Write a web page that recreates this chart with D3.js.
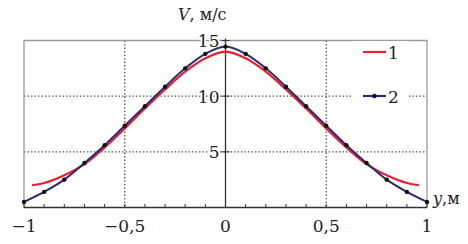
<!DOCTYPE html>
<html>
<head>
<meta charset="utf-8">
<script src="https://cdn.jsdelivr.net/npm/d3@7"></script>
<style>
  body { margin: 0; background: #fff; }
</style>
</head>
<body>
<div id="chart"></div>
<script>
const width = 468, height = 244;

// series 1 (red, smooth line)
var redX = [-0.96, -0.9, -0.8, -0.7, -0.6, -0.5, -0.4, -0.3, -0.2, -0.1, 0, 0.1, 0.2, 0.3, 0.4, 0.5, 0.6, 0.7, 0.8, 0.9, 0.96];
var redV = [2.0, 2.2, 2.9, 3.9, 5.4, 7.1, 8.9, 10.6, 12.2, 13.4, 14.0, 13.4, 12.2, 10.6, 8.9, 7.1, 5.4, 3.9, 2.9, 2.2, 2.0];

// series 2 (navy, with markers)
var blueX = [-1, -0.9, -0.8, -0.7, -0.6, -0.5, -0.4, -0.3, -0.2, -0.1, 0, 0.1, 0.2, 0.3, 0.4, 0.5, 0.6, 0.7, 0.8, 0.9, 1];
var blueV = [0.5, 1.4, 2.5, 4.0, 5.6, 7.35, 9.1, 10.85, 12.5, 13.8, 14.45, 13.8, 12.5, 10.85, 9.1, 7.35, 5.6, 4.0, 2.5, 1.4, 0.5];

var xTicks = [-1, -0.5, 0, 0.5, 1];
var xTickLabels = ["\u22121", "\u22120,5", "0", "0,5", "1"];
var yTicks = [5, 10, 15];
var legendLabels = ["1", "2"];

var font = "DejaVu Serif";

var svg = d3.select("#chart").append("svg")
    .attr("width", width)
    .attr("height", height);

var x = d3.scaleLinear().domain([-1, 1]).range([24, 427]);
var y = d3.scaleLinear().domain([0, 15]).range([207.5, 40.5]);

// grid (dotted)
svg.append("g")
    .selectAll("line")
    .data([-0.5, 0.5])
    .join("line")
    .attr("x1", d => x(d)).attr("x2", d => x(d))
    .attr("y1", y(15)).attr("y2", y(0))
    .attr("stroke", "#555")
    .attr("stroke-width", 1.3)
    .attr("stroke-dasharray", "1.5,2");

svg.append("g")
    .selectAll("line")
    .data([5, 10])
    .join("line")
    .attr("x1", x(-1)).attr("x2", x(1))
    .attr("y1", d => y(d)).attr("y2", d => y(d))
    .attr("stroke", "#555")
    .attr("stroke-width", 1.3)
    .attr("stroke-dasharray", "1.5,2");

// frame
svg.append("path")
    .attr("d", "M" + x(-1) + "," + y(0) + "V" + y(15) + "H" + x(1) + "V" + y(0))
    .attr("fill", "none")
    .attr("stroke", "#9a9a9a")
    .attr("stroke-width", 1.3);

// x axis with minor ticks
svg.append("line")
    .attr("x1", x(-1)).attr("x2", x(1))
    .attr("y1", y(0)).attr("y2", y(0))
    .attr("stroke", "#333").attr("stroke-width", 1.5);

svg.append("g")
    .selectAll("line")
    .data(d3.range(-10, 11).map(d => d / 10))
    .join("line")
    .attr("x1", d => x(d)).attr("x2", d => x(d))
    .attr("y1", y(0)).attr("y2", y(0) - 3.5)
    .attr("stroke", "#333").attr("stroke-width", 1);

svg.append("g")
    .selectAll("text")
    .data(xTicks)
    .join("text")
    .attr("x", d => x(d))
    .attr("y", 232)
    .attr("text-anchor", "middle")
    .style("font-family", font)
    .style("font-size", "17px")
    .attr("fill", "#222")
    .text((d, i) => xTickLabels[i]);

// y axis at x = 0
svg.append("line")
    .attr("x1", x(0)).attr("x2", x(0))
    .attr("y1", y(0)).attr("y2", y(15) - 2)
    .attr("stroke", "#333").attr("stroke-width", 1.3);

svg.append("g")
    .selectAll("line")
    .data(yTicks)
    .join("line")
    .attr("x1", x(0) - 4).attr("x2", x(0) + 4)
    .attr("y1", d => y(d)).attr("y2", d => y(d))
    .attr("stroke", "#333").attr("stroke-width", 1);

svg.append("g")
    .selectAll("text")
    .data(yTicks)
    .join("text")
    .attr("x", x(0) - 6)
    .attr("y", d => y(d) + 6.5)
    .attr("text-anchor", "end")
    .style("font-family", font)
    .style("font-size", "17px")
    .attr("fill", "#222")
    .style("paint-order", "stroke")
    .attr("stroke", "#fff")
    .attr("stroke-width", 3)
    .text(d => d);

// axis titles
var vt = svg.append("text")
    .attr("x", 178).attr("y", 20)
    .style("font-family", font)
    .style("font-size", "16px")
    .attr("fill", "#222");
vt.append("tspan").attr("font-style", "italic").text("V");
vt.append("tspan").text(", м/с");

var yt = svg.append("text")
    .attr("x", 433).attr("y", 204)
    .style("font-family", font)
    .style("font-size", "16px")
    .attr("fill", "#222");
yt.append("tspan").attr("font-style", "italic").text("y");
yt.append("tspan").text(",м");

// curves
var redData = redX.map((d, i) => [d, redV[i]]);
var blueData = blueX.map((d, i) => [d, blueV[i]]);

var line = d3.line()
    .x(d => x(d[0]))
    .y(d => y(d[1]))
    .curve(d3.curveCatmullRom);

svg.append("path")
    .datum(redData)
    .attr("d", line)
    .attr("fill", "none")
    .attr("stroke", "#e8202e")
    .attr("stroke-width", 2.2);

svg.append("path")
    .datum(blueData)
    .attr("d", line)
    .attr("fill", "none")
    .attr("stroke", "#2a2a78")
    .attr("stroke-width", 2);

svg.append("g")
    .selectAll("circle")
    .data(blueData)
    .join("circle")
    .attr("cx", d => x(d[0]))
    .attr("cy", d => y(d[1]))
    .attr("r", 2.2)
    .attr("fill", "#111");

// legend
var legend = svg.append("g");
legend.append("rect")
    .attr("x", 352).attr("y", 41)
    .attr("width", 57).attr("height", 70)
    .attr("fill", "#fff");

var legY = [52, 96];
legend.selectAll("line")
    .data(legendLabels)
    .join("line")
    .attr("x1", 363).attr("x2", 386)
    .attr("y1", (d, i) => legY[i]).attr("y2", (d, i) => legY[i])
    .attr("stroke", (d, i) => i == 0 ? "#e8202e" : "#2a2a78")
    .attr("stroke-width", 2.2);

legend.append("circle")
    .attr("cx", 374.5).attr("cy", legY[1]).attr("r", 2.2).attr("fill", "#111");

legend.selectAll("text")
    .data(legendLabels)
    .join("text")
    .attr("x", 388)
    .attr("y", (d, i) => legY[i] + 6.5)
    .style("font-family", font)
    .style("font-size", "17px")
    .attr("fill", "#222")
    .text(d => d);
</script>
</body>
</html>
